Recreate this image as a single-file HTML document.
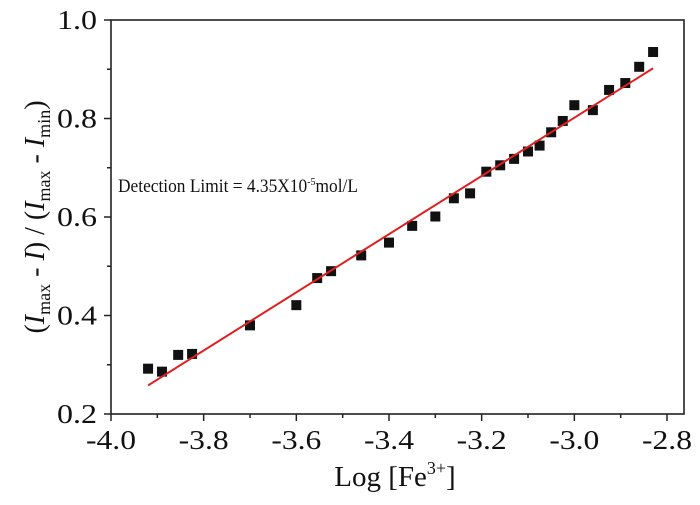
<!DOCTYPE html>
<html><head><meta charset="utf-8"><style>
body{margin:0;background:#fff}
svg text{font-family:"Liberation Serif",serif;fill:#111}
</style></head><body>
<svg width="700" height="500">
<g id="axes"></g>
<g id="marks"></g>
<text x="118" y="192" font-size="19" textLength="240" lengthAdjust="spacingAndGlyphs">Detection Limit = 4.35X10<tspan dy="-7" font-size="11">-5</tspan><tspan dy="7">mol/L</tspan></text>
<text x="395" y="486" font-size="29" text-anchor="middle">Log [Fe<tspan dy="-12" font-size="18">3+</tspan><tspan dy="12">]</tspan></text>
<text transform="translate(44,217) rotate(-90)" font-size="28" text-anchor="middle">(<tspan font-style="italic">I</tspan><tspan font-size="18" dy="6">max</tspan><tspan dy="-6"> - </tspan><tspan font-style="italic">I</tspan>) / (<tspan font-style="italic">I</tspan><tspan font-size="18" dy="6">max</tspan><tspan dy="-6"> - </tspan><tspan font-style="italic">I</tspan><tspan font-size="18" dy="6">min</tspan><tspan dy="-6">)</tspan></text>
</svg>
<script>
const xTicks=["-4.0","-3.8","-3.6","-3.4","-3.2","-3.0","-2.8"];
const yTicks=["0.2","0.4","0.6","0.8","1.0"];
const xVals=[-3.92,-3.89,-3.855,-3.825,-3.70,-3.60,-3.555,-3.525,-3.46,-3.40,-3.35,-3.30,-3.26,-3.225,-3.19,-3.16,-3.13,-3.10,-3.075,-3.05,-3.025,-3.0,-2.96,-2.925,-2.89,-2.86,-2.83];
const yVals=[0.292,0.286,0.32,0.322,0.38,0.421,0.476,0.49,0.522,0.548,0.582,0.601,0.638,0.648,0.692,0.705,0.718,0.733,0.745,0.772,0.795,0.827,0.817,0.858,0.872,0.905,0.935];
const fitX=[-3.92,-2.83];
const fitY=[0.258,0.902];
const NS="http://www.w3.org/2000/svg";
const X=v=>111+(v+4.0)/1.2*556;
const Y=v=>414-(v-0.2)/0.8*394;
function mk(t,a,p){const e=document.createElementNS(NS,t);for(const k in a)e.setAttribute(k,a[k]);p.appendChild(e);return e;}
const ax=document.getElementById('axes'),mg=document.getElementById('marks');
const fr=mk('rect',{x:111,y:20,width:573,height:394,fill:'none',stroke:'#222','stroke-width':1.6},ax);


for(let i=0;i<=12;i++){const v=-4.0+i*0.1,x=X(v);const major=i%2==0;
const t=mk('line',{x1:x,x2:x,y1:414,y2:major?421:418,stroke:'#222','stroke-width':1.5},ax);

}
xTicks.forEach(s=>{const v=parseFloat(s);const t=mk('text',{x:X(v),y:449,'font-size':27,'text-anchor':'middle',textLength:50,lengthAdjust:'spacingAndGlyphs'},ax);t.textContent=s;

});
for(let i=0;i<=8;i++){const v=0.2+i*0.1,y=Y(v);const major=i%2==0;
const t=mk('line',{x1:major?104:107,x2:111,y1:y,y2:y,stroke:'#222','stroke-width':1.5},ax);

}
yTicks.forEach(s=>{const v=parseFloat(s);const t=mk('text',{x:97,y:Y(v)+9,'font-size':27,'text-anchor':'end',textLength:40,lengthAdjust:'spacingAndGlyphs'},ax);t.textContent=s;

});
xVals.forEach((v,i)=>{const r=mk('rect',{x:X(v)-5,y:Y(yVals[i])-5,width:10,height:10,fill:'#111'},mg);

});
const ln=mk('line',{x1:X(fitX[0]),y1:Y(fitY[0]),x2:X(fitX[1]),y2:Y(fitY[1]),stroke:'#e02020','stroke-width':2},mg);


</script>
</body></html>
